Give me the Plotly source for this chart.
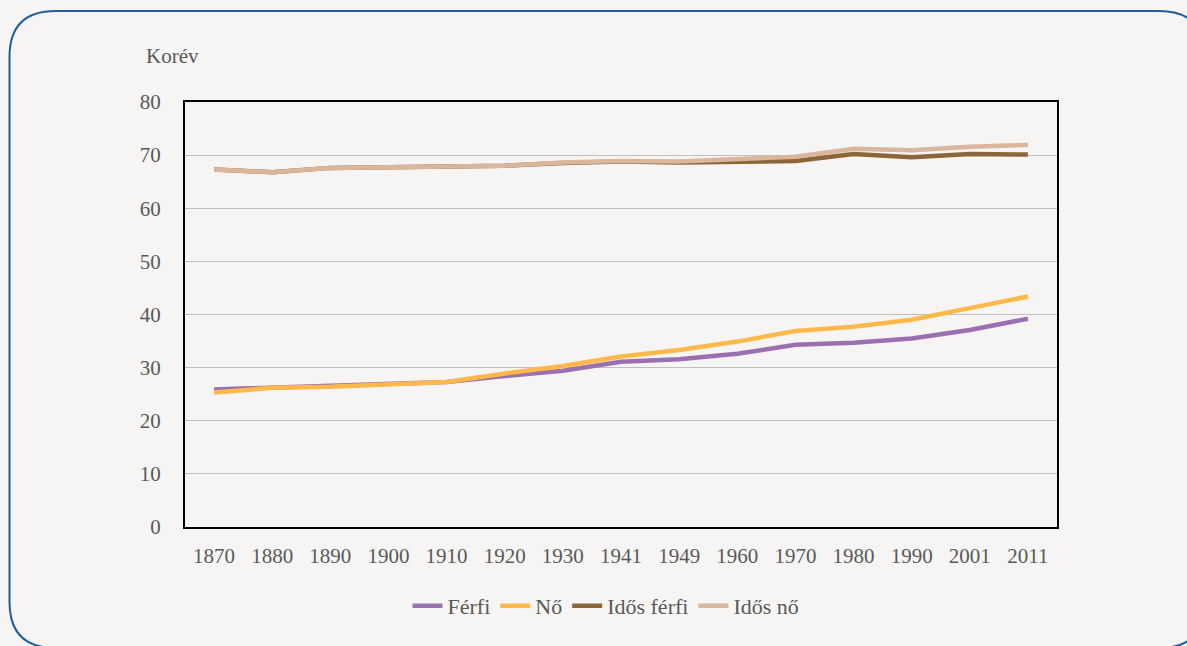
import plotly.graph_objects as go

years = ["1870", "1880", "1890", "1900", "1910", "1920", "1930", "1941",
         "1949", "1960", "1970", "1980", "1990", "2001", "2011"]
ferfi = [25.9, 26.3, 26.5, 26.9, 27.3, 28.4, 29.4, 31.1, 31.6, 32.6, 34.3, 34.7, 35.5, 37.1, 39.2]
no = [25.3, 26.2, 26.4, 26.9, 27.3, 28.9, 30.3, 32.1, 33.3, 34.9, 36.9, 37.7, 39.0, 41.2, 43.4]
idos_ferfi = [67.3, 66.8, 67.6, 67.7, 68.0, 68.0, 68.5, 68.8, 68.6, 68.8, 68.9, 70.2, 69.6, 70.2, 70.1]
idos_no = [67.3, 66.8, 67.6, 67.7, 68.0, 68.0, 68.6, 68.9, 68.8, 69.2, 69.7, 71.2, 70.9, 71.6, 71.9]

names = ["Férfi", "Nő", "Idős férfi", "Idős nő"]
colors = ["#9B70B1", "#FFB94A", "#8C6539", "#D9B69C"]

W, H = 1187, 646
L, R, T, B = 185, 1057, 102, 527

FONT = "Liberation Serif"
TXT = "#595959"
FS = 21

fig = go.Figure()
for name, vals, col in zip(names, [ferfi, no, idos_ferfi, idos_no], colors):
    fig.add_trace(go.Scatter(x=years, y=vals, name=name, mode="lines",
                             line=dict(color=col, width=4.5)))

def px(x):
    return (x - L) / (R - L)

def py(y):
    return (B - y) / (B - T)

# rounded border path in pixel coords -> paper
x0, y0, x1, y1, r = 9.5, 11, 1205, 648, 46
path = (f"M {px(x0 + r)},{py(y0)} L {px(x1 - r)},{py(y0)} "
        f"Q {px(x1)},{py(y0)} {px(x1)},{py(y0 + r)} "
        f"L {px(x1)},{py(y1 - r)} Q {px(x1)},{py(y1)} {px(x1 - r)},{py(y1)} "
        f"L {px(x0 + r)},{py(y1)} Q {px(x0)},{py(y1)} {px(x0)},{py(y1 - r)} "
        f"L {px(x0)},{py(y0 + r)} Q {px(x0)},{py(y0)} {px(x0 + r)},{py(y0)} Z")

fig.add_shape(type="path", path=path, xref="paper", yref="paper",
              line=dict(color="#1F5F9E", width=2), layer="below")

fig.add_annotation(text="Korév", xref="paper", yref="paper",
                   x=px(144), y=py(56), xanchor="left", yanchor="middle",
                   showarrow=False, font=dict(family=FONT, size=FS, color=TXT))

fig.update_layout(
    width=W, height=H,
    margin=dict(l=L, r=W - R, t=T, b=H - B),
    paper_bgcolor="#F6F5F3", plot_bgcolor="#F6F5F3",
    font=dict(family=FONT, size=FS, color=TXT),
    showlegend=True,
    legend=dict(orientation="h", x=px(606), xanchor="center", y=py(606),
                yanchor="middle", font=dict(family=FONT, size=22, color=TXT),
                itemwidth=30, traceorder="normal", bgcolor="rgba(0,0,0,0)"),
    xaxis=dict(type="category", range=[-0.5, len(years) - 0.5], showgrid=False,
               showline=True, linecolor="black", linewidth=2, mirror=True,
               ticks="", ticklabelstandoff=9,
               tickfont=dict(family=FONT, size=FS, color=TXT), zeroline=False),
    yaxis=dict(range=[0, 80], dtick=10, showgrid=True, gridcolor="#BFBFBF",
               gridwidth=1, showline=True, linecolor="black", linewidth=2,
               mirror=True, ticks="", ticklabelstandoff=18, zeroline=False,
               tickfont=dict(family=FONT, size=FS, color=TXT)),
)

fig.write_html("out.html", config={"displayModeBar": False},
               post_script="document.body.style.margin='0';document.body.style.background='#F6F5F3';")
